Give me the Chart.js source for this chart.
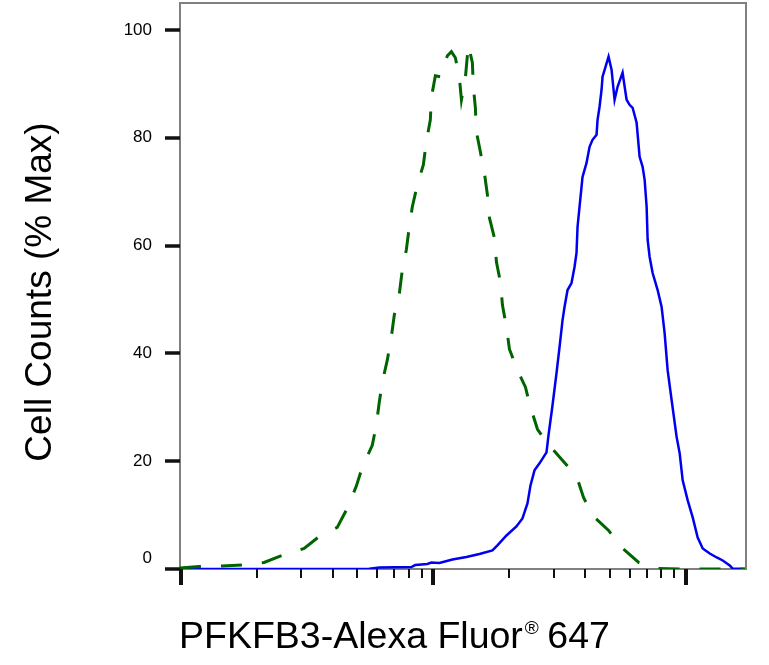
<!DOCTYPE html>
<html>
<head>
<meta charset="utf-8">
<title>PFKFB3 flow histogram</title>
<script src="https://cdn.jsdelivr.net/npm/chart.js@4.4.1/dist/chart.umd.min.js"></script>
<style>
  html, body { margin: 0; padding: 0; background: #fff; }
  #wrap { width: 769px; height: 665px; }
</style>
</head>
<body>
<div id="wrap"><canvas id="histChart" width="769" height="665"></canvas></div>
<script>
// isotype control (green dashed) - fluorescence / % max
const isoX = [1, 1.19, 1.468, 1.762, 2.154, 2.54, 3.105, 3.561, 4.198, 4.6, 4.994, 5.275, 5.78, 5.995,
  6.162, 6.333, 6.629, 6.876, 7.067, 7.396, 7.602, 7.885, 8.103, 8.328, 8.719, 9.211, 9.467, 9.819,
  9.909, 10.28, 10.76, 11.47, 11.9, 12.34, 12.8, 13.04, 13.52, 13.89, 14.41, 14.54, 14.81, 14.95,
  15.5, 16.08, 16.53, 16.84, 17.62, 17.95, 18.61, 18.96, 19.67, 20.21, 21.75, 23.39, 24.49, 26.11,
  28.35, 32.5, 37.28, 39.73, 43.14, 49.94, 56.23, 65.7, 77.43, 95.54, 175];
const isoY = [0.19, 0.46, 0.56, 0.74, 1.21, 2.51, 3.81, 6.04, 7.71, 11.24, 15.33, 18.86, 22.95, 26.66,
  30.94, 34.65, 38.74, 43.01, 47.1, 51.0, 55.46, 59.18, 63.45, 67.17, 71.26, 74.97, 79.25, 83.33,
  87.42, 91.51, 91.32, 95.22, 95.97, 94.85, 91.14, 87.05, 91.14, 97.27, 93.92, 89.46, 85.56, 81.1,
  77.39, 73.49, 69.4, 65.12, 61.41, 56.95, 53.23, 48.96, 44.87, 40.78, 36.88, 33.72, 30.01, 25.92,
  23.5, 20.35, 17.2, 13.28, 9.94, 7.15, 3.99, 1.21, 0.1, 0, 0];

// PFKFB3 stained cells (blue solid)
const pfkX = [1, 5.623, 6.162, 8.254, 8.56, 9.555, 9.909, 10.66, 12.01, 13.64, 15.37, 17.3, 18.11,
  19.67, 21.54, 22.76, 23.82, 24.49, 25.4, 26.59, 28.34, 28.86, 29.94, 31.05, 31.92, 32.81, 33.41,
  34.34, 35.61, 36.6, 37.27, 37.62, 38.31, 39.02, 39.37, 40.84, 41.98, 43.14, 44.75, 45.16, 45.99,
  46.84, 47.27, 48.59, 49.93, 51.32, 52.75, 54.21, 56.75, 58.86, 60.49, 62.19, 64.5, 66.29, 68.13,
  69.4, 70.67, 71.33, 72.64, 74.65, 78.14, 81.03, 83.28, 85.6, 88.79, 92.96, 95.55, 98.2, 102.8,
  107.6, 112.6, 117.9, 125.7, 134, 141.5, 150.9, 155.1, 175];
const pfkY = [0, 0.05, 0.28, 0.37, 0.74, 0.93, 1.21, 1.11, 1.77, 2.23, 2.79, 3.44, 4.37,
  6.22, 7.9, 9.38, 12.17, 15.51, 18.3, 19.6, 21.65, 24.8, 30.38, 36.32, 41.16, 46.17, 48.59,
  51.75, 53.05, 56.02, 58.62, 63.45, 67.17, 70.88, 72.74, 75.34, 78.32, 79.62, 80.55, 83.33, 85.75,
  88.91, 91.32, 93.18, 95.04, 92.62, 87.05, 89.46, 92.07, 87.05, 86.12, 85.56, 82.78, 76.46, 74.6,
  72.19, 67.17, 61.04, 57.88, 54.91, 51.75, 48.59, 43.76, 36.88, 31.31, 24.43, 21.46, 16.44, 12.73,
  9.57, 5.85, 3.81, 2.88, 2.14, 1.58, 0.65, 0.09, 0];

// axes
const xTicks = [1, 2, 3, 4, 5, 6, 7, 8, 9, 10, 20, 30, 40, 50, 60, 70, 80, 90, 100];
const xMajor = [1, 10, 100];
const yTicks = [0, 5, 10, 15, 20, 25, 30, 35, 40, 45, 50, 55, 60, 65, 70, 75, 80, 85, 90, 95, 100, 105];
const yLabels = [0, 20, 40, 60, 80, 100];
const xTitle = ["PFKFB3-Alexa Fluor", "\u00AE", " 647"];
const yTitle = "Cell Counts (% Max)";

const FONT = '"Liberation Sans", Arial, sans-serif';

// tick marks, frame and the two axis titles
const axisDecor = {
  id: "axisDecor",
  afterDraw(chart) {
    const { ctx, chartArea: a, scales: { x, y } } = chart;
    ctx.save();

    ctx.strokeStyle = "#808080";
    ctx.lineWidth = 2;
    ctx.beginPath();
    ctx.moveTo(a.left, a.top);
    ctx.lineTo(a.right, a.top);
    ctx.lineTo(a.right, a.bottom);
    ctx.stroke();

    ctx.strokeStyle = "#111";
    y.ticks.forEach(t => {
      const py = Math.round(y.getPixelForValue(t.value));
      const major = yLabels.includes(t.value);
      ctx.lineWidth = major ? 3.5 : 2;
      ctx.beginPath();
      ctx.moveTo(a.left - (major ? 15 : 7), py);
      ctx.lineTo(a.left, py);
      ctx.stroke();
    });
    x.ticks.forEach(t => {
      const px = Math.round(x.getPixelForValue(t.value)) + 1;
      const major = xMajor.includes(t.value);
      ctx.lineWidth = major ? 4 : 2;
      ctx.beginPath();
      ctx.moveTo(px, a.bottom);
      ctx.lineTo(px, a.bottom + (major ? 16 : 9));
      ctx.stroke();
    });

    // titles
    ctx.fillStyle = "#000";
    ctx.textBaseline = "alphabetic";
    ctx.textAlign = "left";
    let tx = 179;
    ctx.font = "37.5px " + FONT;
    ctx.fillText(xTitle[0], tx, 648);
    tx += ctx.measureText(xTitle[0]).width + 2;
    ctx.font = "19px " + FONT;
    ctx.fillText(xTitle[1], tx, 634);
    tx += ctx.measureText(xTitle[1]).width;
    ctx.font = "37.5px " + FONT;
    ctx.fillText(xTitle[2], tx - 2, 648);

    ctx.font = "37px " + FONT;
    ctx.translate(51, 292);
    ctx.rotate(-Math.PI / 2);
    ctx.textAlign = "center";
    ctx.fillText(yTitle, 0, 0);
    ctx.restore();
  }
};

new Chart(document.getElementById("histChart"), {
  type: "line",
  data: {
    datasets: [
      {
        label: "Isotype control",
        data: isoX.map((v, i) => ({ x: v, y: isoY[i] })),
        borderColor: "#006400",
        borderWidth: 3,
        borderDash: [21, 20],
        pointRadius: 0,
        tension: 0,
        fill: false
      },
      {
        label: "PFKFB3",
        data: pfkX.map((v, i) => ({ x: v, y: pfkY[i] })),
        borderColor: "#0000f0",
        borderWidth: 2.5,
        pointRadius: 0,
        tension: 0,
        fill: false
      }
    ]
  },
  options: {
    responsive: false,
    animation: false,
    devicePixelRatio: 1,
    layout: { padding: { top: 3, right: 23, left: 0, bottom: 0 } },
    plugins: { legend: { display: false }, tooltip: { enabled: false } },
    scales: {
      x: {
        type: "logarithmic",
        min: 1,
        max: 175,
        afterBuildTicks: s => { s.ticks = xTicks.map(v => ({ value: v })); },
        afterFit: s => { s.height = 96; s.paddingLeft = 0; s.paddingRight = 0; },
        ticks: { display: false, autoSkip: false },
        grid: { display: false, drawTicks: false, tickLength: 0 },
        border: { display: true, color: "#808080", width: 2 }
      },
      y: {
        min: 0,
        max: 105,
        afterBuildTicks: s => { s.ticks = yTicks.map(v => ({ value: v })); },
        afterFit: s => { s.width = 180; s.paddingTop = 0; s.paddingBottom = 0; },
        ticks: {
          padding: 28,
          color: "#000",
          font: { family: FONT, size: 17 },
          autoSkip: false,
          callback: v => v === 0 ? ["0", ""] : (yLabels.includes(v) ? String(v) : null)
        },
        grid: { display: false, drawTicks: false, tickLength: 0 },
        border: { display: true, color: "#808080", width: 2 }
      }
    }
  },
  plugins: [axisDecor]
});
</script>
</body>
</html>
